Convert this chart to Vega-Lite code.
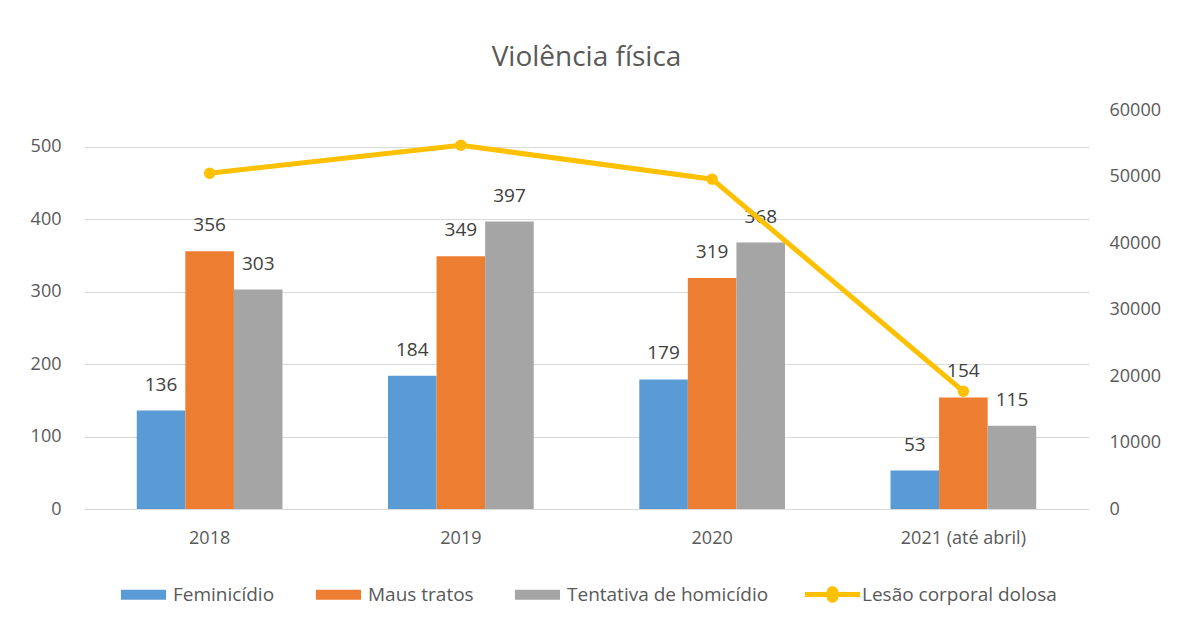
{
  "$schema": "https://vega.github.io/schema/vega-lite/v6.json",
  "width": 1005,
  "height": 399,
  "padding": {"left": 30, "top": 44, "right": 5, "bottom": 5},
  "background": "white",
  "title": {"text": "Violência física", "fontSize": 28, "font": "Open Sans", "fontWeight": "normal", "color": "#595959", "anchor": "middle", "offset": 29},
  "config": {
    "font": "Open Sans",
    "view": {"stroke": null},
    "axis": {"labelFont": "Open Sans", "labelFontSize": 18, "labelColor": "#595959", "title": null, "ticks": false, "domain": false},
    "legend": {"labelFont": "Open Sans", "labelFontSize": 19, "labelColor": "#595959", "labelLimit": 0, "title": null, "orient": "bottom", "direction": "horizontal", "columnPadding": 36, "offset": 20,
      "layout": {"bottom": {"anchor": "middle", "margin": 36}}}
  },
  "datasets": {
    "barras": [
      {"ano": "2018", "serie": "Feminicídio", "valor": 136},
      {"ano": "2018", "serie": "Maus tratos", "valor": 356},
      {"ano": "2018", "serie": "Tentativa de homicídio", "valor": 303},
      {"ano": "2019", "serie": "Feminicídio", "valor": 184},
      {"ano": "2019", "serie": "Maus tratos", "valor": 349},
      {"ano": "2019", "serie": "Tentativa de homicídio", "valor": 397},
      {"ano": "2020", "serie": "Feminicídio", "valor": 179},
      {"ano": "2020", "serie": "Maus tratos", "valor": 319},
      {"ano": "2020", "serie": "Tentativa de homicídio", "valor": 368},
      {"ano": "2021 (até abril)", "serie": "Feminicídio", "valor": 53},
      {"ano": "2021 (até abril)", "serie": "Maus tratos", "valor": 154},
      {"ano": "2021 (até abril)", "serie": "Tentativa de homicídio", "valor": 115}
    ],
    "linha": [
      {"ano": "2018", "serie": "Lesão corporal dolosa", "valor": 50500},
      {"ano": "2019", "serie": "Lesão corporal dolosa", "valor": 54700},
      {"ano": "2020", "serie": "Lesão corporal dolosa", "valor": 49600},
      {"ano": "2021 (até abril)", "serie": "Lesão corporal dolosa", "valor": 17700}
    ]
  },
  "encoding": {
    "x": {"field": "ano", "type": "nominal", "sort": null,
      "scale": {"paddingInner": 0.42, "paddingOuter": 0.21},
      "axis": {"labelAngle": 0, "labelPadding": 20}}
  },
  "layer": [
    {
      "layer": [
        {
          "data": {"name": "barras"},
          "mark": {"type": "bar"},
          "encoding": {
            "xOffset": {"field": "serie", "type": "nominal", "sort": ["Feminicídio", "Maus tratos", "Tentativa de homicídio"]},
            "y": {"field": "valor", "type": "quantitative",
              "scale": {"domain": [0, 551], "nice": false},
              "axis": {"values": [0, 100, 200, 300, 400, 500], "grid": true, "gridColor": "#D9D9D9", "labelPadding": 23, "orient": "left"}},
            "color": {"field": "serie", "type": "nominal",
              "scale": {"domain": ["Feminicídio", "Maus tratos", "Tentativa de homicídio"], "range": ["#5B9BD5", "#ED7D31", "#A5A5A5"]},
              "legend": {"symbolType": "M-0.82,-0.18H0.82V0.18H-0.82Z", "symbolSize": 3025, "symbolStrokeWidth": 0, "labelOffset": 2}}
          }
        },
        {
          "data": {"name": "barras"},
          "mark": {"type": "text", "fontSize": 19, "color": "#404040", "dy": -26, "baseline": "middle"},
          "encoding": {
            "xOffset": {"field": "serie", "type": "nominal", "sort": ["Feminicídio", "Maus tratos", "Tentativa de homicídio"]},
            "y": {"field": "valor", "type": "quantitative"},
            "text": {"field": "valor", "type": "quantitative"}
          }
        }
      ]
    },
    {
      "data": {"name": "linha"},
      "mark": {"type": "line", "strokeWidth": 5, "point": {"filled": true, "size": 130, "color": "#FFC000"}},
      "encoding": {
        "y": {"field": "valor", "type": "quantitative",
          "scale": {"domain": [0, 60000], "nice": false},
          "axis": {"orient": "right", "values": [0, 10000, 20000, 30000, 40000, 50000, 60000], "grid": false, "labelPadding": 20, "format": "d"}},
        "color": {"field": "serie", "type": "nominal",
          "scale": {"domain": ["Lesão corporal dolosa"], "range": ["#FFC000"]},
          "legend": {"symbolType": "M-1,-0.09H-0.21A0.21,0.21 0 0,1 0.21,-0.09H1V0.09H0.21A0.21,0.21 0 0,1 -0.21,0.09H-1Z", "symbolSize": 3025, "symbolFillColor": "#FFC000", "symbolStrokeWidth": 0, "labelOffset": 2}}
      }
    }
  ],
  "resolve": {"scale": {"y": "independent", "color": "independent"}}
}
